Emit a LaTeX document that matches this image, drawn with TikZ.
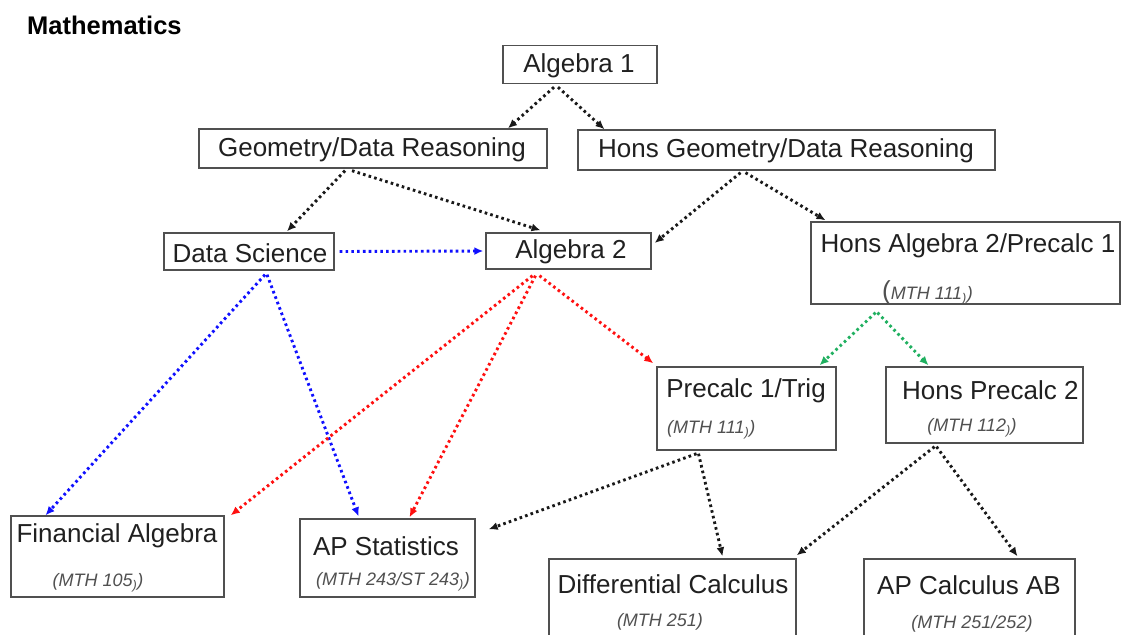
\documentclass[tikz,border=0pt]{standalone}
\usepackage{fontspec}
\setmainfont{Liberation Sans}
\usetikzlibrary{arrows.meta,calc}
\definecolor{boxline}{HTML}{505050}
\definecolor{txt}{HTML}{202020}
\definecolor{subtxt}{HTML}{505050}
\definecolor{ablue}{HTML}{1010FF}
\definecolor{ared}{HTML}{FF1010}
\definecolor{agreen}{HTML}{20B060}
\newcommand{\bigtxt}{\fontsize{26}{28}\selectfont}
\newcommand{\subtxt}{\fontsize{18}{20}\selectfont\itshape}
\begin{document}
\begin{tikzpicture}[x=1pt,y=-1pt,
  course/.style={draw=boxline,line width=1.4pt,rectangle,inner sep=0pt},
  ttl/.style={text=txt,font=\bigtxt,inner sep=0pt,anchor=center},
  sub/.style={text=subtxt,font=\subtxt,inner sep=0pt,anchor=center},
  link/.style={line width=2.9pt,dash pattern=on 2.6pt off 3.2pt,
    -{Latex[length=9pt,width=8pt]}},
  blk/.style={link,draw=black!90},
  blu/.style={link,draw=ablue},
  rd/.style={link,draw=ared},
  grn/.style={link,draw=agreen}]
\useasboundingbox (0,0) rectangle (1123,634);
\fill[white] (0,0) rectangle (1123,634);
\node[anchor=west,inner sep=0pt,font=\fontsize{25.5}{27}\selectfont\bfseries] (title) at (27,25) {Mathematics};
% boxes
\node[course,minimum width=154pt,minimum height=38pt] (alg1) at (580,64.5) {};
\node[ttl] at (579,66) {Algebra 1};
\node[course,minimum width=348pt,minimum height=39pt] (geo) at (373,148.5) {};
\node[ttl] at (372,150) {Geometry/Data Reasoning};
\node[course,minimum width=417pt,minimum height=40pt] (hgeo) at (786.5,150) {};
\node[ttl] at (786,151) {Hons Geometry/Data Reasoning};
\node[course,minimum width=170pt,minimum height=37pt] (ds) at (249,251.5) {};
\node[ttl] at (250,253) {Data Science};
\node[course,minimum width=165pt,minimum height=36pt] (alg2) at (568.5,251) {};
\node[ttl] at (571,252) {Algebra 2};
\node[course,minimum width=309pt,minimum height=82pt] (ha2) at (965.5,263) {};
\node[ttl] at (968,246) {Hons Algebra 2/Precalc 1};
\node[sub,anchor=west] at (882,293) {{\upshape\bigtxt(}MTH 111\textsubscript{)})};
\node[course,minimum width=179pt,minimum height=83pt] (pc1) at (746.5,408.5) {};
\node[ttl] at (746,391) {Precalc 1/Trig};
\node[sub,anchor=west] at (667,430) {(MTH 111\textsubscript{)})};
\node[course,minimum width=197pt,minimum height=76pt] (hpc2) at (984.5,405) {};
\node[ttl,anchor=west] at (902,390) {Hons Precalc 2};
\node[sub] at (972,428) {(MTH 112\textsubscript{)})};
\node[course,minimum width=213pt,minimum height=81pt] (fa) at (117.5,556.5) {};
\node[ttl] at (117,536) {Financial Algebra};
\node[sub] at (98,583) {(MTH 105\textsubscript{)})};
\node[course,minimum width=175pt,minimum height=78pt] (aps) at (387.5,558) {};
\node[ttl] at (386,546) {AP Statistics};
\node[sub] at (393,582) {(MTH 243/ST 243\textsubscript{)})};
\node[course,minimum width=247pt,minimum height=90pt] (dc) at (672.5,604) {};
\node[ttl] at (673,584) {Differential Calculus};
\node[sub] at (660,622) {(MTH 251)};
\node[course,minimum width=211pt,minimum height=90pt] (apc) at (969.5,604) {};
\node[ttl,anchor=west] at (877,585) {AP Calculus AB};
\node[sub] at (972,624) {(MTH 251/252)};
% connectors
\draw[blk] ([xshift=-26pt,yshift=-3pt]alg1.south) -- ([xshift=135pt]geo.north);
\draw[blk] ([xshift=-22pt,yshift=-3pt]alg1.south) -- ([xshift=-182pt]hgeo.north);
\draw[blk] ([xshift=-28pt,yshift=-2pt]geo.south) -- ([xshift=38pt,yshift=1pt]ds.north);
\draw[blk] ([xshift=-21pt,yshift=-2pt]geo.south) -- ([xshift=-28pt,yshift=2pt]alg2.north);
\draw[blk] ([xshift=-46pt,yshift=-2pt]hgeo.south) -- ([xshift=3pt,yshift=8pt]alg2.east);
\draw[blk] ([xshift=-41pt,yshift=-2pt]hgeo.south) -- ([xshift=-140pt,yshift=1pt]ha2.north);
\draw[blu] ([xshift=5pt]ds.east) -- ([xshift=-2pt]alg2.west);
\draw[blu] ([xshift=16pt,yshift=-4pt]ds.south) -- ([xshift=-72pt]fa.north);
\draw[blu] ([xshift=18pt,yshift=-4pt]ds.south) -- ([xshift=-29pt,yshift=2pt]aps.north);
\draw[rd] ([xshift=-36pt,yshift=-6pt]alg2.south) -- ([xshift=6pt]fa.north east);
\draw[rd] ([xshift=-33pt,yshift=-6pt]alg2.south) -- ([xshift=22pt,yshift=1pt]aps.north);
\draw[rd] ([xshift=-29pt,yshift=-6pt]alg2.south) -- ([xshift=-3pt,yshift=3pt]pc1.north west);
\draw[grn] ([xshift=-90pt,yshift=-8pt]ha2.south) -- ([xshift=73pt,yshift=1pt]pc1.north);
\draw[grn] ([xshift=-88pt,yshift=-8pt]ha2.south) -- ([xshift=-56pt,yshift=1pt]hpc2.north);
\draw[blk] ([xshift=-50pt,yshift=-3pt]pc1.south) -- ([xshift=13pt,yshift=-11pt]aps.north east);
\draw[blk] ([xshift=-48pt,yshift=-3pt]pc1.south) -- ([xshift=50pt,yshift=2pt]dc.north);
\draw[blk] ([xshift=-50pt,yshift=-3pt]hpc2.south) -- ([yshift=3pt]dc.north east);
\draw[blk] ([xshift=-48pt,yshift=-3pt]hpc2.south) -- ([xshift=48pt,yshift=2pt]apc.north);
\end{tikzpicture}
\end{document}
